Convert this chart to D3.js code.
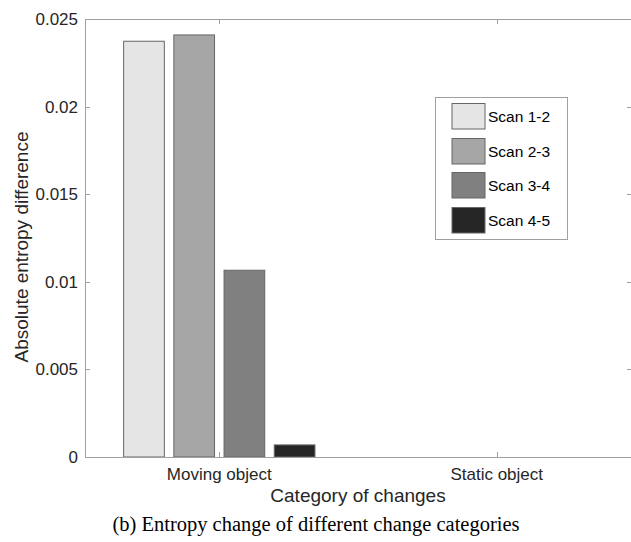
<!DOCTYPE html>
<html><head><meta charset="utf-8">
<script src="https://cdn.jsdelivr.net/npm/d3@7"></script>
<style>body{margin:0;background:#fff;}svg{display:block;}</style>
</head><body>
<svg id="chart" width="631" height="542"></svg>
<script>
const categories = ["Moving object", "Static object"];
const seriesNames = ["Scan 1-2", "Scan 2-3", "Scan 3-4", "Scan 4-5"];
const scan12 = [0.02373, 0];
const scan23 = [0.02409, 0];
const scan34 = [0.01066, 0];
const scan45 = [0.00069, 0];
const yTicks = [0, 0.005, 0.01, 0.015, 0.02, 0.025];
const yTickLabels = ["0", "0.005", "0.01", "0.015", "0.02", "0.025"];
const colors = ["#e5e5e5", "#a6a6a6", "#808080", "#262626"];

const series = [scan12, scan23, scan34, scan45];
const svg = d3.select("#chart");
const L = 85, R = 632, T = 19, B = 457;
const x = d3.scaleLinear().domain([0.5159, 2.4877]).range([L, R]);
const y = d3.scaleLinear().domain([0, 0.025]).range([B, T]);
const barW = 0.1467, step = 0.181;
const axisCol = "#a0a0a0", textCol = "#262626";
const font = "'Liberation Sans', Arial, sans-serif";

// bars
series.forEach((vals, s) => {
  svg.append("g").selectAll("rect").data(vals).join("rect")
    .attr("x", (d, i) => x(i + 1 + (s - 1.5) * step - barW / 2))
    .attr("width", x(barW) - x(0))
    .attr("y", d => y(d))
    .attr("height", d => y(0) - y(d))
    .attr("fill", colors[s])
    .attr("stroke", d => d > 0 ? "#666" : "none")
    .attr("stroke-width", 1);
});

// axes box
const g = svg.append("g");
g.append("line").attr("x1", L).attr("x2", R).attr("y1", B + 0.5).attr("y2", B + 0.5).attr("stroke", axisCol);
g.append("line").attr("x1", L).attr("x2", R).attr("y1", T + 0.5).attr("y2", T + 0.5).attr("stroke", axisCol);
g.append("line").attr("x1", L + 0.5).attr("x2", L + 0.5).attr("y1", T).attr("y2", B).attr("stroke", axisCol);
g.append("line").attr("x1", R - 0.5).attr("x2", R - 0.5).attr("y1", T).attr("y2", B).attr("stroke", axisCol);

// y ticks
yTicks.forEach((t, i) => {
  const yy = Math.round(y(t)) + 0.5;
  g.append("line").attr("x1", L).attr("x2", L + 5).attr("y1", yy).attr("y2", yy).attr("stroke", axisCol);
  g.append("line").attr("x1", R - 5).attr("x2", R).attr("y1", yy).attr("y2", yy).attr("stroke", axisCol);
  g.append("text").attr("x", L - 7).attr("y", y(t)).attr("dy", "0.35em")
    .attr("text-anchor", "end").attr("font-family", font).attr("font-size", 17)
    .attr("fill", textCol).text(yTickLabels[i]);
});
// x ticks
categories.forEach((c, i) => {
  const xx = Math.round(x(i + 1)) + 0.5;
  g.append("line").attr("x1", xx).attr("x2", xx).attr("y1", B).attr("y2", B - 5).attr("stroke", axisCol);
  g.append("line").attr("x1", xx).attr("x2", xx).attr("y1", T).attr("y2", T + 5).attr("stroke", axisCol);
  g.append("text").attr("x", x(i + 1)).attr("y", 480)
    .attr("text-anchor", "middle").attr("font-family", font).attr("font-size", 17)
    .attr("fill", textCol).text(c);
});

// axis labels
svg.append("text").attr("x", 358).attr("y", 502).attr("text-anchor", "middle")
  .attr("font-family", font).attr("font-size", 19).attr("fill", textCol).text("Category of changes");
svg.append("text").attr("transform", `translate(27.5,247) rotate(-90)`).attr("text-anchor", "middle")
  .attr("font-family", font).attr("font-size", 19).attr("fill", textCol).text("Absolute entropy difference");

// legend
const lg = svg.append("g");
lg.append("rect").attr("x", 435.5).attr("y", 97.5).attr("width", 132).attr("height", 142)
  .attr("fill", "#fff").attr("stroke", axisCol);
const swY = [103.5, 138.5, 172.5, 207.5];
seriesNames.forEach((n, i) => {
  lg.append("rect").attr("x", 452).attr("y", swY[i]).attr("width", 33).attr("height", 25.5)
    .attr("fill", colors[i]).attr("stroke", "#666");
  lg.append("text").attr("x", 488).attr("y", swY[i] + 13).attr("dy", "0.35em")
    .attr("font-family", font).attr("font-size", 15.5).attr("fill", "#000").text(n);
});

// caption
svg.append("text").attr("x", 316).attr("y", 531).attr("text-anchor", "middle")
  .attr("font-family", "'Liberation Serif', 'Times New Roman', serif").attr("font-size", 20.5)
  .attr("fill", "#000").text("(b) Entropy change of different change categories");
</script>
</body></html>
